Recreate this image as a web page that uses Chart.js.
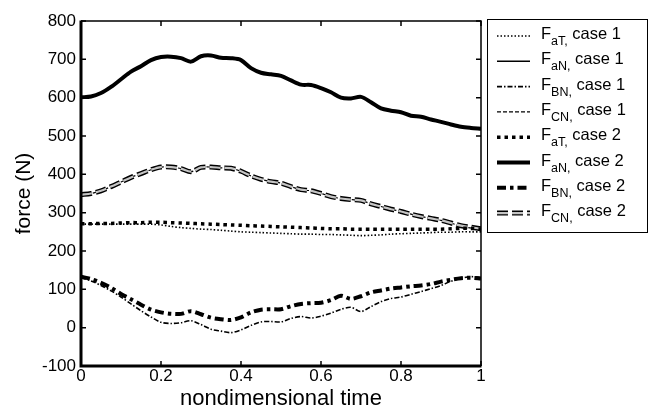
<!DOCTYPE html>
<html lang="en">
<head>
    <meta charset="UTF-8">
    <title>Forces vs nondimensional time</title>
    <script src="https://cdn.jsdelivr.net/npm/chart.js"></script>
    <style>
        body { margin: 0; background: #fff; }
        #wrap { width: 653px; height: 412px; }
    </style>
</head>
<body>
    <div id="wrap"><canvas id="forceChart" width="653" height="412"></canvas></div>

    <script>
        // nondimensional time samples
        let times = [0, 0.025, 0.05, 0.075, 0.1, 0.125, 0.15, 0.175, 0.2, 0.225, 0.25, 0.275, 0.3, 0.325, 0.35, 0.375, 0.4, 0.425, 0.45, 0.475, 0.5,
                     0.525, 0.55, 0.575, 0.6, 0.625, 0.65, 0.675, 0.7, 0.725, 0.75, 0.775, 0.8, 0.825, 0.85, 0.875, 0.9, 0.925, 0.95, 0.975, 1];

        // case 1 forces (N)
        let faT1 = [270, 270, 270, 270, 270, 270, 270, 270, 268, 264, 261, 259, 257, 256, 254, 252, 250, 249, 248, 247, 246,
                    245, 244, 244, 243, 243, 242, 241, 240, 241, 242, 244, 245, 246, 247, 248, 249, 249, 250, 250, 250];
        let faN1 = [601, 603, 612, 628, 648, 668, 682, 698, 706, 707, 703, 694, 708, 710, 704, 703, 698, 677, 665, 661, 657,
                    645, 634, 633, 625, 614, 600, 598, 602, 588, 572, 566, 562, 553, 550, 543, 537, 530, 524, 521, 519];
        let fbN1 = [130, 122, 110, 96, 80, 62, 44, 28, 14, 11, 13, 18, 8, -4, -9, -13, -6, 6, 15, 16, 15,
                    24, 29, 25, 30, 38, 48, 53, 42, 55, 68, 76, 80, 87, 94, 102, 110, 121, 129, 133, 131];
        let fcN1 = [347, 350, 357, 368, 380, 392, 402, 412, 419, 419, 415, 407, 418, 419, 417, 416, 408, 396, 387, 381, 377,
                    368, 360, 357, 350, 342, 337, 334, 332, 323, 316, 309, 303, 296, 290, 285, 280, 273, 264, 260, 256];

        // case 2 forces (N)
        let faT2 = [271, 271, 272, 272, 273, 274, 274, 275, 275, 274, 273, 272, 271, 270, 269, 268, 267, 266, 265, 264, 263,
                    262, 261, 260, 259, 258, 258, 257, 257, 257, 257, 257, 257, 257, 257, 257, 257, 258, 259, 259, 257];
        let faN2 = [601, 603, 612, 628, 648, 668, 682, 698, 706, 707, 703, 694, 708, 710, 704, 703, 698, 677, 665, 661, 657,
                    645, 634, 633, 625, 614, 600, 598, 602, 588, 572, 566, 562, 553, 550, 543, 537, 530, 524, 521, 519];
        let fbN2 = [133, 127, 117, 104, 88, 74, 60, 47, 40, 36, 36, 43, 35, 26, 22, 20, 27, 40, 47, 48, 48,
                    56, 62, 64, 65, 72, 83, 75, 82, 92, 97, 102, 105, 108, 110, 114, 120, 125, 129, 130, 128];
        let fcN2 = [347, 350, 357, 368, 380, 392, 402, 412, 419, 419, 415, 407, 418, 419, 417, 416, 408, 396, 387, 381, 377,
                    368, 360, 357, 350, 342, 337, 334, 332, 323, 316, 309, 303, 296, 290, 285, 280, 273, 266, 262, 258];

        let seriesSubs = ["aT", "aN", "BN", "CN", "aT", "aN", "BN", "CN"];
        let seriesCases = [1, 1, 1, 1, 2, 2, 2, 2];
        let xTicks = [0, 0.2, 0.4, 0.6, 0.8, 1];

        const FONT = '"Liberation Sans", Arial, sans-serif';
        const HOLLOW = "#c4c4c4";

        // line styles in legend order
        let styles = [
            { width: 1.6, dash: [1.5, 2] },
            { width: 1.5, dash: [] },
            { width: 1.6, dash: [5, 2, 1.5, 2] },
            { width: 1.2, dash: [4, 2] },
            { width: 3.5, dash: [3.5, 4] },
            { width: 4, dash: [] },
            { width: 4, dash: [9, 4, 3.5, 4] },
            { width: 5, dash: [11, 4] }
        ];
        let seriesData = [faT1, faN1, fbN1, fcN1, faT2, faN2, fbN2, fcN2];
        // draw order: lower = on top
        let drawOrder = [2, 9, 3, 8, 4, 7, 5, 6];

        function toPoints(arr) {
            return arr.map((v, i) => ({ x: times[i], y: v }));
        }

        let datasets = seriesData.map((arr, i) => ({
            label: "F" + seriesSubs[i] + ", case " + seriesCases[i],
            data: toPoints(arr),
            borderColor: "#000",
            borderWidth: styles[i].width,
            borderDash: styles[i].dash,
            borderCapStyle: "butt",
            pointRadius: 0,
            tension: 0.3,
            fill: false,
            order: drawOrder[i]
        }));
        // light inner stroke that makes the case 2 F_CN dashes hollow
        datasets.push({
            label: "inner",
            data: toPoints(fcN2),
            borderColor: HOLLOW,
            borderWidth: 2.2,
            borderDash: [11, 4],
            borderCapStyle: "butt",
            pointRadius: 0,
            tension: 0.3,
            fill: false,
            order: 5.5
        });

        // frame + inward ticks like the original plot
        const frameTicks = {
            id: "frameTicks",
            afterDatasetsDraw(chart) {
                const { ctx, chartArea: a, scales } = chart;
                ctx.save();
                ctx.strokeStyle = "#000";
                ctx.lineWidth = 1.5;
                ctx.beginPath();
                ctx.moveTo(a.left, a.top); ctx.lineTo(a.right, a.top); ctx.lineTo(a.right, a.bottom);
                ctx.stroke();
                ctx.lineWidth = 3;
                ctx.beginPath();
                ctx.moveTo(a.left, a.top - 0.5); ctx.lineTo(a.left, a.bottom); ctx.lineTo(a.right + 0.5, a.bottom);
                ctx.stroke();
                ctx.lineWidth = 1.5;
                const len = 5;
                scales.y.ticks.forEach(t => {
                    const y = scales.y.getPixelForValue(t.value);
                    ctx.beginPath();
                    ctx.moveTo(a.left, y); ctx.lineTo(a.left + len, y);
                    ctx.moveTo(a.right, y); ctx.lineTo(a.right - len, y);
                    ctx.stroke();
                });
                scales.x.ticks.forEach(t => {
                    const x = scales.x.getPixelForValue(t.value);
                    ctx.beginPath();
                    ctx.moveTo(x, a.bottom); ctx.lineTo(x, a.bottom - len);
                    ctx.moveTo(x, a.top); ctx.lineTo(x, a.top + len);
                    ctx.stroke();
                });
                ctx.restore();
            }
        };

        // boxed legend with subscripts
        const subLegend = {
            id: "subLegend",
            afterDraw(chart) {
                const ctx = chart.ctx;
                ctx.save();
                ctx.strokeStyle = "#000";
                ctx.lineWidth = 1;
                ctx.strokeRect(487.5, 19.5, 160, 213);
                for (let i = 0; i < seriesSubs.length; i++) {
                    const ds = chart.data.datasets[i];
                    const yc = 35 + i * 25.3;
                    ctx.setLineDash(ds.borderDash);
                    ctx.lineWidth = ds.borderWidth;
                    ctx.lineCap = "butt";
                    ctx.strokeStyle = "#000";
                    ctx.beginPath();
                    ctx.moveTo(497, yc + 1); ctx.lineTo(530, yc + 1);
                    ctx.stroke();
                    if (i === 7) {
                        ctx.strokeStyle = HOLLOW;
                        ctx.lineWidth = 2.2;
                        ctx.beginPath();
                        ctx.moveTo(497, yc + 1); ctx.lineTo(530, yc + 1);
                        ctx.stroke();
                    }
                    ctx.setLineDash([]);
                    ctx.fillStyle = "#000";
                    ctx.textBaseline = "alphabetic";
                    ctx.textAlign = "left";
                    let x = 541;
                    ctx.font = "16.5px " + FONT;
                    ctx.fillText("F", x, yc + 4);
                    x += ctx.measureText("F").width;
                    ctx.font = "12.5px " + FONT;
                    ctx.fillText(seriesSubs[i] + ",", x, yc + 10);
                    x += ctx.measureText(seriesSubs[i] + ",").width;
                    ctx.font = "16.5px " + FONT;
                    ctx.fillText(" case " + seriesCases[i], x, yc + 4);
                }
                ctx.restore();
            }
        };

        let config = {
            type: "line",
            data: { datasets: datasets },
            options: {
                responsive: false,
                animation: false,
                layout: { padding: { top: 21, right: 172, bottom: 0, left: 0 } },
                plugins: { legend: { display: false }, tooltip: { enabled: false } },
                scales: {
                    x: {
                        type: "linear",
                        min: 0,
                        max: 1,
                        afterBuildTicks: s => { s.ticks = xTicks.map(v => ({ value: v })); },
                        afterFit: s => { s.height = 46; },
                        grid: { display: false, drawTicks: false },
                        border: { display: false },
                        ticks: { color: "#000", padding: 0, font: { family: FONT, size: 17 }, callback: v => String(v) },
                        title: { display: true, text: "nondimensional time", color: "#000", padding: 0, font: { family: FONT, size: 22 } }
                    },
                    y: {
                        min: -100,
                        max: 800,
                        afterFit: s => { s.width = 81; },
                        grid: { display: false, drawTicks: false },
                        border: { display: false },
                        ticks: { stepSize: 100, color: "#000", padding: 5, font: { family: FONT, size: 17 } },
                        title: { display: true, text: "force (N)", color: "#000", padding: { top: 12, bottom: 0 }, font: { family: FONT, size: 21 } }
                    }
                }
            },
            plugins: [frameTicks, subLegend]
        };

        new Chart(document.getElementById("forceChart"), config);
    </script>
</body>
</html>
